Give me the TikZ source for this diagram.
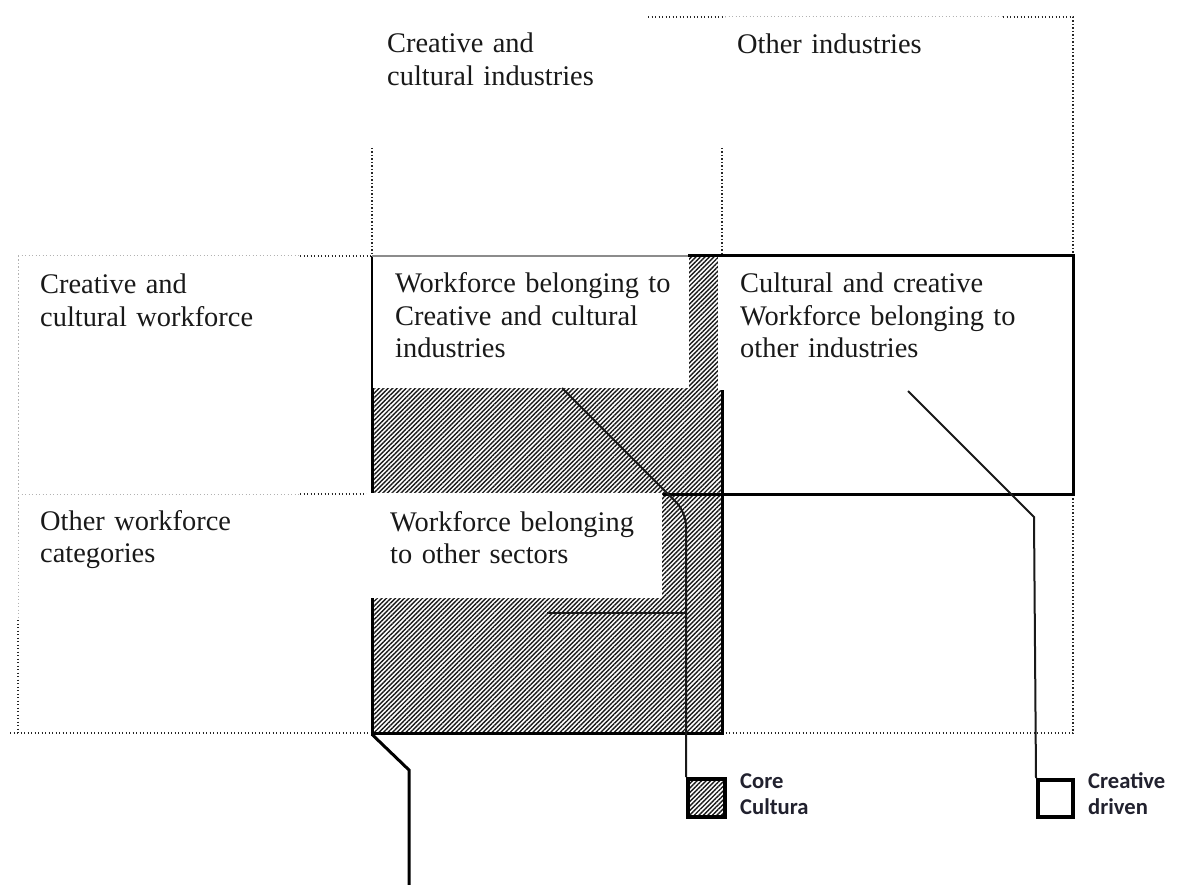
\documentclass[tikz,border=0pt]{standalone}
\usepackage{fontspec}
\setmainfont{Liberation Serif}
\newfontfamily\legendfont{Carlito}
\usetikzlibrary{patterns.meta}
\definecolor{legtext}{rgb}{0.13,0.13,0.18}
\begin{document}
\begin{tikzpicture}[x=1pt,y=-1pt,
  gridline/.style={line width=1.2pt,dash pattern=on 1.2pt off 2.3pt,black!85},
  faintline/.style={line width=1pt,dash pattern=on 1.2pt off 2.3pt,black!30},
  hatch/.style={pattern={Lines[angle=45,distance=3.2pt,line width=1.4pt]},pattern color=black!90},
  thickline/.style={line width=3pt,black},
  conn/.style={line width=2pt,black!90},
  whitebox/.style={fill=white,draw=none,inner sep=0pt,anchor=north west},
  lbl/.style={inner sep=0pt,anchor=base west,align=left,text width=340pt,
    font=\fontsize{28.4}{32.5}\selectfont,text=black!90},
  leg/.style={inner sep=0pt,anchor=base west,align=left,text width=120pt,
    font=\legendfont\bfseries\fontsize{22.6}{26.5}\selectfont,text=legtext},
  legbox/.style={line width=4pt,black,anchor=north west,inner sep=0pt}]
\useasboundingbox[fill=white] (0,0) rectangle (1179,885);
% dotted grid
\draw[gridline] (648,17) -- (725,17);
\draw[faintline] (725,17) -- (1003,17);
\draw[gridline] (1003,17) -- (1073,17) -- (1073,256);
\draw[gridline] (372,148) -- (372,256);
\draw[gridline] (722,148) -- (722,256);
\draw[faintline] (18,256) -- (300,256);
\draw[gridline] (300,256) -- (372,256);
\draw[faintline] (18,494) -- (300,494);
\draw[gridline] (300,494) -- (372,494);
\draw[faintline] (18,256) -- (18,620);
\draw[gridline] (18,620) -- (18,733);
\draw[gridline] (10,733) -- (372,733);
\draw[gridline] (722,733) -- (1073,733) -- (1073,494);
% hatched core area
\node[whitebox,hatch,minimum width=350pt,minimum height=477pt] (core) at (372,256) {};
\draw[thickline] (372,256) -- (372,733) -- (722,733) -- (722,390);
% white label boxes
\node[whitebox,minimum width=316pt,minimum height=132pt] (wb1) at (372.5,256) {};
\node[whitebox,minimum width=355pt,minimum height=134pt] (wb2) at (718,256) {};
\draw[line width=1.5pt,black!45] (372,256) -- (688,256);
% creative driven box
\draw[thickline] (688,256) -- (1073,256) -- (1073,494) -- (663,494);
\node[whitebox,minimum width=295pt,minimum height=105pt] (wb3) at (367,493) {};
% connectors
\coordinate (c1s) at (562,388);
\coordinate (c2s) at (908,391);
\coordinate (hs) at (547,613);
\coordinate (c3) at (409,885);
% legend boxes
\node[legbox,hatch,draw,minimum width=37pt,minimum height=38pt] (lcore) at (686,777) {};
\node[legbox,draw,fill=white,minimum width=35pt,minimum height=37pt] (lcre) at (1036,778) {};
\draw[conn,rounded corners=14pt] (c1s) -- (686,512) -- (lcore.north west);
\draw[conn] (hs) -- (686,613);
\draw[conn] (c2s) -- (1034,517) -- (lcre.north west);
\draw[line width=3pt,black] (core.south west) -- (409,770) -- (c3);
% texts
\node[lbl] (colA) at (387,53) {Creative and\\cultural industries};
\node[lbl] (colB) at (737,54) {Other industries};
\node[lbl] (rowA) at (40,294) {Creative and\\cultural workforce};
\node[lbl] (cci) at (395,293) {Workforce belonging to\\Creative and cultural\\industries};
\node[lbl] (cco) at (740,293) {Cultural and creative\\Workforce belonging to\\other industries};
\node[lbl] (rowB) at (40,530) {Other workforce\\categories};
\node[lbl] (oth) at (390,531) {Workforce belonging\\to other sectors};
\node[leg] (coreT) at (740,788) {Core\\Cultura};
\node[leg] (creT) at (1088,788) {Creative\\driven};
\end{tikzpicture}
\end{document}
